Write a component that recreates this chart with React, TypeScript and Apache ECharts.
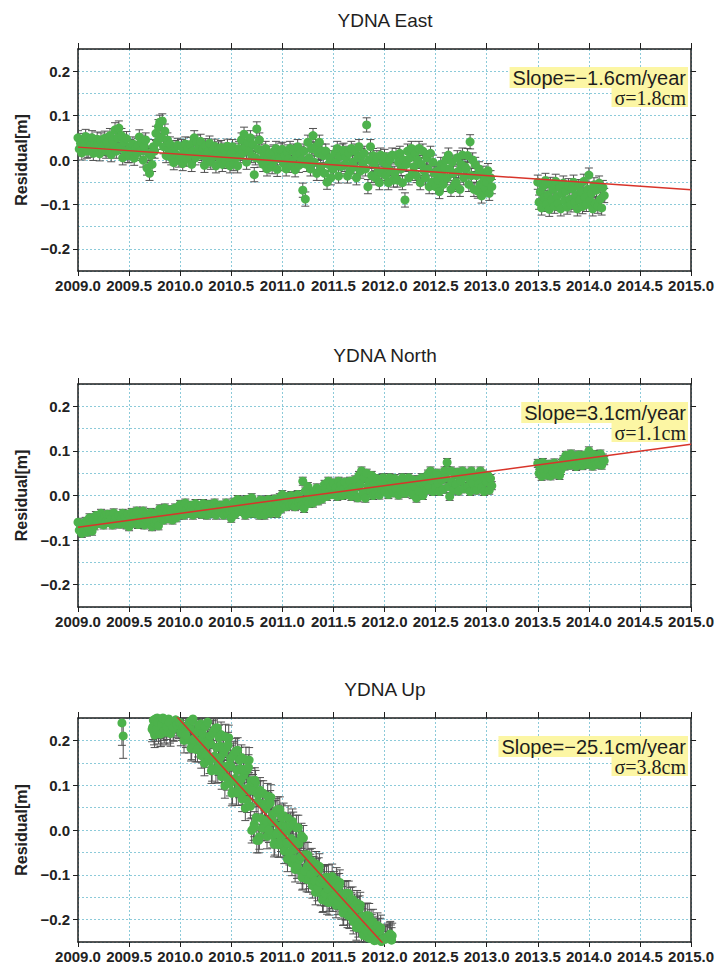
import React, { useEffect, useRef } from "react";
import * as echarts from "echarts";

// ---------- axis constants ----------
const EPOCH_STEP = 0.0125; // sampling interval of the plotted solutions (years)
const X_MIN = 2009.0;
const X_MAX = 2015.0;
const X_INTERVAL = 0.5;
const Y_MIN = -0.25;
const Y_MAX = 0.25;
const Y_GRID_INTERVAL = 0.05;
const yTickValues = [-0.2, -0.1, 0.0, 0.1, 0.2];

// ---------- texts ----------
const panelTitles = ["YDNA East", "YDNA North", "YDNA Up"];
const slopeLabels = ["Slope=−1.6cm/year", "Slope=3.1cm/year", "Slope=−25.1cm/year"];
const sigmaLabels = ["σ=1.8cm", "σ=1.1cm", "σ=3.8cm"];
const yAxisName = "Residual[m]";

// ---------- East residuals (mm) ----------
const eastSeg1Start = 2009.0;
const eastSeg1Mm = [
  50, 25, 38, 16, 44, 30, 53, 20, 22, 42, 33, 50, 15, 36, 28, 47,
  37, 14, 45, 26, 33, 49, 20, 40, 25, 55, 12, 45, 35, 68, 20, 50,
  72, 30, 55, 5, 40, 20, 48, 10, 10, 30, 20, 36, 4, 25, 15, 33,
  52, 20, 40, 0, 30, 45, -18, 15, -30, 10, -10, 30, 20, 60, 40, 75,
  85, 50, 88, 30, 65, 10, 45, 25, 36, 5, 20, -6, 28, 12, 33, 0,
  8, 30, -8, 20, 36, 2, 25, 14, 35, -10, 20, 50, 5, 40, 15, 28,
  42, 10, 25, -12, 32, 0, 18, 38, -5, 20, 8, 31, -13, 15, 25, 2,
  28, -10, 12, 22, -3, 31, 5, -13, 15, 30, -8, 22, 5, -13, 26, 10,
  45, 15, 58, 30, -5, 40, 20, 50, 10, 35, -33, 5, 70, 25, 45, 0,
  20, -10, 10, 26, -20, 5, 15, -5, -15, 18, 0, 26, -21, 12, 5, 22,
  24, -8, 10, -20, 18, 2, 26, -12, -5, 20, -22, 10, 30, -12, 15, 0,
  -68, 20, -88, -10, 40, 5, -20, 25, 55, -5, 30, -30, 15, 40, -15, 20,
  10, -30, 20, -50, -10, 5, -40, -20, -20, 15, -5, 26, -36, 8, -15, 20,
  22, -10, 5, -36, 15, -25, 26, -5, -15, 20, -40, 5, 30, -25, 10, -8,
  15, -20, 79, -60, 0, 30, -35, 10, -10, -40, 5, -25, -51, 11, -30, -5,
  8, -35, -15, -51, 0, -25, 11, -45, -30, 10, -45, -5, 15, -20, -51, 0,
  -90, -10, 20, -40, 5, 26, -30, -15, 15, -35, 0, 26, -51, -10, 20, -25,
  -40, 5, -20, -60, 15, -50, -5, -30, -60, -25, -45, -71, -10, -35, -55, -18,
  0, -40, 11, -20, -66, -5, -30, -55, -50, 5, -25, -66, -10, 11, -40, -15,
  -20, 10, -55, 41, -35, 0, -66, -10, -35, -70, -20, -55, -81, -30, -45, -65,
  -50, -24, -75, -40, -60,
];
const eastSeg2Start = 2013.5;
const eastSeg2Mm = [
  -50, -95, -72, -108, -60, -85, -46, -100, -78, -111, -55, -90, -66, -104, -48, -82,
  -98, -62, -110, -75, -52, -92, -70, -106, -58, -88, -101, -65, -50, -95, -80, -110,
  -60, -90, -72, -105, -48, -84, -100, -66, -34, -92, -75, -110, -56, -98, -68, -104,
  -52, -88, -108, -62, -80,
];
const eastSigmaMm = 16;
const eastTrend = [
  [2009.0, 0.029],
  [2015.0, -0.067],
];

// ---------- North residuals (mm) ----------
const northSeg1Start = 2009.0;
const northSeg1Mm = [
  -60, -78, -70, -85, -64, -75, -58, -82, -72, -50, -65, -80, -55, -68, -45, -60,
  -50, -62, -40, -55, -66, -45, -58, -42, -60, -44, -52, -66, -39, -56, -48, -63,
  -45, -64, -52, -40, -60, -48, -66, -42, -70, -50, -38, -62, -45, -55, -35, -65,
  -40, -58, -48, -35, -66, -52, -42, -60, -55, -38, -70, -46, -62, -40, -58, -68,
  -30, -50, -40, -55, -28, -45, -36, -52, -48, -32, -55, -40, -28, -50, -36, -44,
  -20, -38, -28, -44, -17, -32, -40, -24, -36, -22, -44, -30, -18, -40, -26, -34,
  -25, -42, -18, -35, -30, -44, -20, -38, -40, -20, -32, -17, -44, -28, -36, -22,
  -22, -36, -44, -26, -17, -40, -30, -34, -51, -30, -15, -42, -24, -9, -36, -20,
  -12, -34, -25, -44, -9, -30, -18, -40, -5, -28, -40, -15, -35, -22, -44, -10,
  -30, -12, -44, -20, -36, -9, -26, -40, -15, -35, -8, -25, -40, -18, -5, -30,
  2, -18, -8, -25, -3, -14, -22, 0, -20, -5, -25, -10, 2, -16, -8, -22,
  32, -29, 10, -10, 20, -18, 5, -5, -17, 8, -5, 17, -12, 12, 0, -8,
  5, 25, 15, -2, 32, 10, 20, 2, 28, 8, 18, -2, 32, 12, 24, 0,
  15, 30, 2, 22, 10, 32, -2, 18, 10, 35, 20, -5, 45, 25, 55, 5,
  40, -6, 50, 20, 30, 10, 45, 0, 25, 5, 38, 15, 1, 30, 12, 40,
  10, 35, 22, 2, 40, 18, 28, 6, 38, 15, 28, 1, 32, 10, 40, 20,
  5, 30, 18, 40, 8, 25, 2, 35, 20, -6, 35, 10, 28, 40, 0, 22,
  30, 12, 48, 20, 55, 35, 9, 42, 18, 50, 28, 9, 45, 35, 14, 55,
  40, 74, 20, -2, 55, 30, 12, 48, 25, 52, 10, 40, 32, 55, 15, 45,
  50, 20, 38, 9, 55, 28, 44, 14, 12, 40, 26, 55, 18, 48, 9, 35,
  30, 45, 12, 38, 22,
];
const northSeg2Start = 2013.5;
const northSeg2Mm = [
  72, 50, 62, 43, 74, 55, 66, 46, 58, 70, 44, 64, 52, 73, 48, 60,
  68, 45, 56, 72, 80, 66, 90, 74, 85, 68, 93, 77, 70, 88, 65, 82,
  91, 72, 84, 67, 90, 78, 86, 70, 100, 75, 88, 66, 92, 80, 70, 87,
  74, 93, 68, 84, 78,
];
const northSigmaMm = 9;
const northTrend = [
  [2009.0, -0.071],
  [2015.0, 0.115],
];

// ---------- Up residuals (mm) ----------
const upSeg1Start = 2009.43;
const upSeg1Mm = [239, 210];
const upSeg1SigmaMm = 50;
const upSeg2Start = 2009.725;
const upSeg2Mm = [
  225, 245, 212, 238, 250, 220, 232, 215, 242, 228, 258, 218, 236, 248, 222, 262, 238, 226, 255, 244,
  268, 232, 287, 228, 255, 200, 261, 228, 277, 200, 228, 185, 248, 204, 180, 251, 191, 219, 237, 178,
  204, 149, 233, 189, 256, 154, 192, 137, 220, 165, 133, 228, 150, 187, 213, 134, 172, 99, 183, 139,
  206, 104, 142, 86, 170, 115, 83, 178, 100, 137, 162, 84, 122, 49, 133, 89, 156, 53, -1, 96,
  13, 105, -23, 64, -15, 82, 4, 82, 16, 47, -14, 56, 18, 73, -12, 18, -28, 42, -5, -33,
  46, -20, 11, 32, -34, -3, -65, 5, -32, -19, 19, -45, -88, 5, -68, -31, -91, -13, -104, -56,
  -91, -110, -56, -103, -82, -69, -115, -96, -139, -92, -118, -81, -141, -121, -154, -107, -141, -160, -106, -153,
  -132, -104, -147, -129, -168, -126, -150, -117, -171, -154, -184, -142, -172, -190, -142, -184, -167, -155, -197, -179,
  -218, -176, -200, -167, -222, -204, -234, -192, -222, -240, -192, -235, -217, -205, -247, -229, -268, -226, -251, -218,
  -272, -254, -284, -242, -238, -262, -235, -240, -236,
];
const upSeg3Start = 2009.73125;
const upSeg3Mm = [
  230, 218, 248, 226, 240, 255, 214, 236, 250, 222, 245, 230, 260, 240, 215, 252, 228, 266, 246, 235,
  258, 240, 216, 265, 231, 281, 212, 266, 233, 242, 182, 244, 202, 251, 218, 180, 234, 199, 166, 215,
  181, 231, 168, 241, 196, 210, 132, 216, 161, 227, 184, 133, 206, 162, 119, 185, 142, 208, 117, 190,
  146, 160, 82, 166, 111, 176, 133, 83, 156, 112, 69, 135, 92, 157, 67, 140, 96, 110, 88, 5,
  111, 28, 80, -23, 89, 26, 58, 4, 58, 21, 76, 0, 60, 23, 35, -32, 38, -9, 46, 9,
  -32, 28, -10, -47, 8, -29, 26, -50, 10, -74, 12, -64, -26, -80, 5, -66, -59, -106, -18, -92,
  -55, -81, -111, -71, -98, -124, -87, -114, -76, -130, -90, -117, -109, -156, -109, -142, -105, -131, -162, -121,
  -148, -154, -121, -145, -112, -161, -125, -149, -143, -185, -143, -173, -141, -165, -192, -156, -180, -204, -171, -196,
  -163, -211, -175, -199, -193, -235, -193, -224, -191, -215, -242, -206, -230, -254, -222, -246, -213, -261, -225, -249,
  -243, -286, -244, -274, -240, -255, -232, -246,
];
const upSigmaMm = 28;
const upTrend = [
  [2009.0, 0.496],
  [2015.0, -1.01],
];

// ---------- layout ----------
const W = 717;
const H = 965;
const GRID_LEFT = 78;
const GRID_WIDTH = 614;
const gridTops = [49, 384, 718];
const gridHeights = [222, 223, 224];

const GREEN = "#4db24c";
const ERR = "#505050";
const RED = "#d8342a";
const GRIDLINE = "#8ccad9";
const AXIS = "#1e1e1e";
const YELLOW = "#fcf6a4";

type Seg = { start: number; values: number[]; sigma: number };

const panels: { segs: Seg[]; trend: number[][] }[] = [
  {
    segs: [
      { start: eastSeg1Start, values: eastSeg1Mm, sigma: eastSigmaMm },
      { start: eastSeg2Start, values: eastSeg2Mm, sigma: eastSigmaMm },
    ],
    trend: eastTrend,
  },
  {
    segs: [
      { start: northSeg1Start, values: northSeg1Mm, sigma: northSigmaMm },
      { start: northSeg2Start, values: northSeg2Mm, sigma: northSigmaMm },
    ],
    trend: northTrend,
  },
  {
    segs: [
      { start: upSeg1Start, values: upSeg1Mm, sigma: upSeg1SigmaMm },
      { start: upSeg2Start, values: upSeg2Mm, sigma: upSigmaMm },
      { start: upSeg3Start, values: upSeg3Mm, sigma: upSigmaMm },
    ],
    trend: upTrend,
  },
];

function buildPoints(segs: Seg[]) {
  const out: number[][] = [];
  segs.forEach((s) => {
    s.values.forEach((v, i) => {
      out.push([Number((s.start + i * EPOCH_STEP).toFixed(5)), v / 1000, s.sigma / 1000]);
    });
  });
  return out;
}

const fmtY = (v: number) => {
  const s = Math.abs(v).toFixed(1);
  return v < -1e-9 ? "−" + s : s;
};

function buildOption() {
  const grid: any[] = [];
  const xAxis: any[] = [];
  const yAxis: any[] = [];
  const series: any[] = [];
  const graphic: any[] = [];

  panels.forEach((p, k) => {
    const top = gridTops[k];
    grid.push({ left: GRID_LEFT, top, width: GRID_WIDTH, height: gridHeights[k], show: false });

    xAxis.push({
      type: "value",
      gridIndex: k,
      position: "bottom",
      min: X_MIN,
      max: X_MAX,
      interval: X_INTERVAL,
      axisLine: { show: true, onZero: false, lineStyle: { color: AXIS, width: 1.5 } },
      axisTick: { show: true, length: 5, lineStyle: { color: AXIS, width: 1 } },
      axisLabel: {
        show: true,
        margin: 7,
        fontSize: 15,
        fontWeight: "bold",
        fontFamily: "Liberation Sans",
        color: "#222",
        formatter: (v: number) => v.toFixed(1),
      },
      splitLine: { show: true, lineStyle: { color: GRIDLINE, type: [2, 2], width: 1 } },
    });
    xAxis.push({
      type: "value",
      gridIndex: k,
      position: "top",
      min: X_MIN,
      max: X_MAX,
      interval: X_INTERVAL,
      axisLine: { show: true, onZero: false, lineStyle: { color: AXIS, width: 1.5 } },
      axisTick: { show: true, length: 6, lineStyle: { color: AXIS, width: 1 } },
      axisLabel: { show: false },
      splitLine: { show: false },
    });
    yAxis.push({
      type: "value",
      gridIndex: k,
      position: "left",
      min: Y_MIN,
      max: Y_MAX,
      interval: Y_GRID_INTERVAL,
      axisLine: { show: false, onZero: false },
      axisTick: { show: false },
      axisLabel: { show: false },
      splitLine: { show: true, lineStyle: { color: GRIDLINE, type: [2, 2], width: 1 } },
    });
    yAxis.push({
      type: "value",
      gridIndex: k,
      position: "left",
      min: Y_MIN,
      max: Y_MAX,
      interval: Y_GRID_INTERVAL,
      name: yAxisName,
      nameLocation: "middle",
      nameGap: 44,
      nameTextStyle: {
        fontSize: 16,
        fontWeight: "bold",
        fontFamily: "Liberation Sans",
        color: "#222",
      },
      axisLine: { show: true, onZero: false, lineStyle: { color: AXIS, width: 1.5 } },
      axisTick: { show: true, length: 5, customValues: yTickValues, lineStyle: { color: AXIS, width: 1 } },
      axisLabel: {
        show: true,
        customValues: yTickValues,
        margin: 8,
        fontSize: 15,
        fontWeight: "bold",
        fontFamily: "Liberation Sans",
        color: "#222",
        formatter: fmtY,
      },
      splitLine: { show: false },
    });
    yAxis.push({
      type: "value",
      gridIndex: k,
      position: "right",
      min: Y_MIN,
      max: Y_MAX,
      interval: Y_GRID_INTERVAL,
      axisLine: { show: true, onZero: false, lineStyle: { color: AXIS, width: 1.5 } },
      axisTick: { show: true, length: 5, customValues: yTickValues, lineStyle: { color: AXIS, width: 1 } },
      axisLabel: { show: false },
      splitLine: { show: false },
    });

    const pts = buildPoints(p.segs);
    const xi = 2 * k;
    const yi = 3 * k;

    series.push({
      type: "custom",
      xAxisIndex: xi,
      yAxisIndex: yi,
      clip: true,
      z: 2,
      data: pts,
      encode: { x: 0, y: 1 },
      renderItem: (params: any, api: any) => {
        const x = api.value(0);
        const y = api.value(1);
        const s = api.value(2);
        const a = api.coord([x, y + s]);
        const b = api.coord([x, y - s]);
        const hw = 4;
        const st = { stroke: ERR, lineWidth: 1 };
        return {
          type: "group",
          children: [
            { type: "line", shape: { x1: a[0], y1: a[1], x2: b[0], y2: b[1] }, style: st },
            { type: "line", shape: { x1: a[0] - hw, y1: a[1], x2: a[0] + hw, y2: a[1] }, style: st },
            { type: "line", shape: { x1: b[0] - hw, y1: b[1], x2: b[0] + hw, y2: b[1] }, style: st },
          ],
        };
      },
    });
    series.push({
      type: "scatter",
      xAxisIndex: xi,
      yAxisIndex: yi,
      z: 3,
      clip: true,
      symbol: "circle",
      symbolSize: 9,
      itemStyle: { color: GREEN, opacity: 1 },
      data: pts.map((d) => [d[0], d[1]]),
    });
    series.push({
      type: "line",
      xAxisIndex: xi,
      yAxisIndex: yi,
      z: 4,
      clip: true,
      symbol: "none",
      lineStyle: { color: RED, width: 1.5 },
      data: p.trend,
    });

    graphic.push({
      type: "text",
      x: GRID_LEFT + GRID_WIDTH / 2,
      y: top - 29,
      z: 100,
      style: {
        text: panelTitles[k],
        fontSize: 19,
        fontFamily: "Liberation Sans",
        fill: "#1e1e1e",
        align: "center",
        verticalAlign: "middle",
      },
    });
    graphic.push({
      type: "text",
      x: GRID_LEFT + GRID_WIDTH - 4,
      y: top + 18,
      z: 100,
      style: {
        text: slopeLabels[k],
        fontSize: 20,
        fontFamily: "Liberation Sans",
        fill: "#1e1e1e",
        align: "right",
        verticalAlign: "top",
        lineHeight: 21,
        backgroundColor: YELLOW,
        padding: [0, 2, 0, 3],
      },
    });
    graphic.push({
      type: "text",
      x: GRID_LEFT + GRID_WIDTH - 4,
      y: top + 39,
      z: 100,
      style: {
        text: sigmaLabels[k],
        fontSize: 20,
        fontFamily: "Liberation Serif",
        fill: "#1e1e1e",
        align: "right",
        verticalAlign: "top",
        lineHeight: 19,
        backgroundColor: YELLOW,
        padding: [0, 2, 0, 3],
      },
    });
  });

  return {
    animation: false,
    backgroundColor: "#ffffff",
    grid,
    xAxis,
    yAxis,
    series,
    graphic,
  };
}

export default function App() {
  const ref = useRef<HTMLDivElement>(null);
  useEffect(() => {
    if (!ref.current) return;
    const chart = echarts.init(ref.current, undefined, { renderer: "svg", width: W, height: H });
    chart.setOption(buildOption() as any);
    return () => chart.dispose();
  }, []);
  return (
    <div
      ref={ref}
      style={{ position: "fixed", left: 0, top: 0, width: W, height: H, background: "#fff" }}
    />
  );
}
